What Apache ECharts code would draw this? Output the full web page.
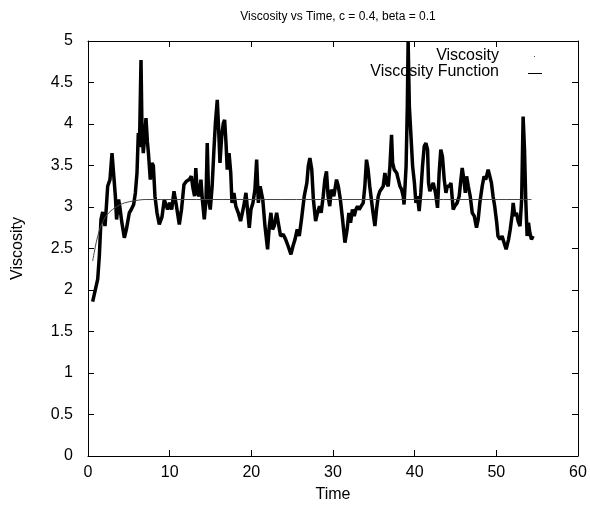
<!DOCTYPE html>
<html>
<head>
<meta charset="utf-8">
<script src="https://cdn.jsdelivr.net/npm/echarts@6/dist/echarts.min.js"></script>
<style>html,body{margin:0;padding:0;background:#fff}#c{width:590px;height:508px}</style>
</head>
<body>
<div id="c"></div>
<script>
const titleText = 'Viscosity vs Time, c = 0.4, beta = 0.1';
const xName = 'Time';
const yName = 'Viscosity';
const seriesNames = ['Viscosity', 'Viscosity Function'];

const viscTime = [0.57,1.19,1.39,1.59,1.8,2.08,2.2,2.41,2.69,2.94,3.1,3.35,3.5,3.75,3.9,4.12,4.45,4.7,5.06,5.3,5.59,5.8,6.0,6.16,6.3,6.49,6.6,6.77,6.9,7.1,7.27,7.4,7.63,7.83,8.0,8.2,8.45,8.73,9.06,9.34,9.5,9.75,10.0,10.25,10.53,10.8,11.18,11.45,11.75,12.05,12.4,12.65,12.85,13.05,13.2,13.38,13.6,13.83,14.0,14.24,14.45,14.6,14.78,14.97,15.2,15.42,15.6,15.83,16.0,16.16,16.37,16.57,16.73,16.9,17.05,17.27,17.48,17.63,17.87,18.1,18.4,18.68,18.9,19.07,19.34,19.53,19.75,19.95,20.2,20.44,20.65,20.86,21.07,21.2,21.4,21.67,21.99,22.2,22.4,22.6,22.8,23.1,23.3,23.58,23.9,24.2,24.5,24.85,25.1,25.35,25.62,25.87,26.14,26.48,26.8,26.97,27.17,27.4,27.6,27.87,28.1,28.35,28.55,28.8,29.0,29.2,29.4,29.6,29.8,30.1,30.43,30.65,30.9,31.15,31.46,31.73,31.94,32.15,32.38,32.6,32.8,33.0,33.2,33.45,33.7,33.9,34.1,34.3,34.5,34.7,34.9,35.13,35.33,35.54,35.74,35.95,36.15,36.35,36.56,36.76,36.97,37.17,37.3,37.5,37.8,38.0,38.2,38.4,38.6,38.7,38.95,39.1,39.2,39.35,39.55,39.75,39.97,40.15,40.35,40.55,40.75,40.96,41.17,41.38,41.58,41.7,41.86,42.1,42.27,42.55,42.8,43.0,43.2,43.4,43.62,43.83,44.0,44.25,44.44,44.72,44.9,45.2,45.45,45.66,45.82,46.03,46.2,46.36,46.57,46.8,47.05,47.3,47.57,47.78,47.98,48.27,48.5,48.7,49.0,49.2,49.4,49.6,49.8,50.05,50.2,50.45,50.7,50.95,51.2,51.5,51.7,51.97,52.06,52.27,52.47,52.67,52.9,53.1,53.28,53.45,53.6,53.77,53.94,54.1,54.3,54.5];
const viscValue = [1.86,2.13,2.41,2.85,2.94,2.77,2.93,3.25,3.33,3.65,3.63,3.13,2.85,3.09,3.0,2.83,2.63,2.73,2.93,2.97,3.03,3.17,3.41,3.89,3.72,4.77,4.0,3.65,3.81,4.07,3.79,3.65,3.33,3.53,3.5,3.13,2.93,2.79,2.88,3.09,3.11,2.97,3.05,2.97,3.19,3.03,2.79,2.97,3.27,3.31,3.33,3.37,3.23,3.13,3.47,3.17,3.13,3.33,3.09,2.85,3.09,3.77,3.09,2.97,3.25,3.69,4.01,4.29,3.93,3.53,3.85,4.01,4.05,3.77,3.45,3.65,3.41,3.05,3.17,3.01,2.93,2.83,2.93,3.01,3.17,2.97,2.75,2.97,3.05,3.21,3.57,3.05,3.25,3.19,3.09,2.77,2.49,2.77,2.93,2.73,2.77,2.93,2.81,2.65,2.67,2.61,2.53,2.43,2.53,2.61,2.73,2.65,2.85,3.13,3.29,3.49,3.59,3.45,3.09,2.83,2.93,3.01,2.93,3.13,3.33,3.43,3.13,3.01,3.21,3.13,3.33,3.25,3.09,2.87,2.57,2.73,2.93,2.81,2.97,2.89,2.97,3.01,2.97,3.01,3.05,3.25,3.57,3.45,3.25,3.09,2.93,2.77,2.97,3.13,3.19,3.17,3.25,3.41,3.29,3.25,3.49,3.87,3.53,3.45,3.41,3.33,3.25,3.21,3.13,3.03,3.49,4.21,5.0,4.21,3.85,3.49,3.29,3.05,3.13,2.95,3.17,3.49,3.73,3.77,3.69,3.29,3.19,3.25,3.29,3.17,2.99,3.41,3.69,3.61,3.33,3.17,3.25,3.25,3.29,2.97,3.01,3.05,3.13,3.33,3.47,3.33,3.17,3.37,3.25,3.13,2.93,2.89,2.75,2.85,3.05,3.25,3.37,3.33,3.45,3.37,3.29,3.13,3.01,2.81,2.65,2.61,2.65,2.57,2.49,2.61,2.73,2.93,3.05,2.89,2.93,2.83,2.77,3.09,4.09,3.69,3.09,2.65,2.81,2.69,2.61,2.65];

const funcTime = [0.57,0.8,1.0,1.39,1.8,2.2,3.0,4.2,5.4,7.0,9.0,54.3];
const funcValue = [2.35,2.47,2.57,2.72,2.82,2.89,2.97,3.04,3.07,3.09,3.09,3.09];

const xTicks = {min: 0, max: 60, interval: 10};
const yTicks = {min: 0, max: 5, interval: 0.5};

const viscData = viscTime.map((t, i) => [t, viscValue[i]]);
const funcData = funcTime.map((t, i) => [t, funcValue[i]]);

const FONT = 'Liberation Sans, Arial, sans-serif';
const chart = echarts.init(document.getElementById('c'), null, {renderer: 'canvas'});

const axLine = {show: true, onZero: false, lineStyle: {color: '#000', width: 1}};
const axTick = {show: true, inside: true, length: 6, lineStyle: {color: '#000', width: 1}};

chart.setOption({
  animation: false,
  backgroundColor: '#fff',
  title: {
    text: titleText,
    left: 333, top: 6, textAlign: 'center',
    textStyle: {fontFamily: FONT, fontSize: 12, fontWeight: 'normal', color: '#000'}
  },
  grid: {left: 88, right: 12, top: 41, bottom: 50, containLabel: false},
  xAxis: [
    {
      type: 'value', position: 'bottom', min: xTicks.min, max: xTicks.max, interval: xTicks.interval,
      name: xName, nameLocation: 'middle', nameGap: 31,
      nameTextStyle: {fontFamily: FONT, fontSize: 16, color: '#000'},
      axisLine: axLine, axisTick: axTick, splitLine: {show: false},
      axisLabel: {fontFamily: FONT, fontSize: 16, color: '#000', margin: 9}
    },
    {
      type: 'value', position: 'top', min: xTicks.min, max: xTicks.max, interval: xTicks.interval,
      axisLine: axLine, axisTick: axTick, splitLine: {show: false}, axisLabel: {show: false}
    }
  ],
  yAxis: [
    {
      type: 'value', position: 'left', min: yTicks.min, max: yTicks.max, interval: yTicks.interval,
      name: yName, nameLocation: 'middle', nameGap: 62, nameRotate: 90,
      nameTextStyle: {fontFamily: FONT, fontSize: 16, color: '#000'},
      axisLine: axLine, axisTick: axTick, splitLine: {show: false},
      axisLabel: {fontFamily: FONT, fontSize: 16, color: '#000', margin: 15}
    },
    {
      type: 'value', position: 'right', min: yTicks.min, max: yTicks.max, interval: yTicks.interval,
      axisLine: axLine, axisTick: axTick, splitLine: {show: false}, axisLabel: {show: false}
    }
  ],
  series: [
    {
      name: seriesNames[0], type: 'line', data: viscData, showSymbol: false, symbol: 'none',
      lineStyle: {color: '#000', width: 3.5}, z: 2
    },
    {
      name: seriesNames[1], type: 'line', data: funcData, showSymbol: false, symbol: 'none', smooth: 0.3,
      lineStyle: {color: '#444', width: 1}, z: 3
    }
  ],
  graphic: [
    {type: 'text', right: 91, top: 48, style: {text: seriesNames[0], font: '16px ' + FONT, fill: '#000', textAlign: 'right'}},
    {type: 'text', right: 91, top: 64, style: {text: seriesNames[1], font: '16px ' + FONT, fill: '#000', textAlign: 'right'}},
    {type: 'rect', shape: {x: 534, y: 56, width: 1, height: 1}, style: {fill: '#555'}},
    {type: 'line', shape: {x1: 528, y1: 73.5, x2: 542, y2: 73.5}, style: {stroke: '#000', lineWidth: 1}}
  ]
});
</script>
</body>
</html>
